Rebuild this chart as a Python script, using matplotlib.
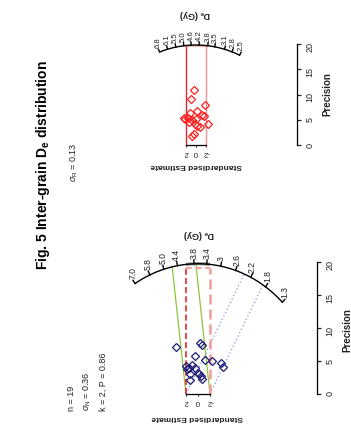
import numpy as np
import matplotlib
matplotlib.use('Agg')
import matplotlib.pyplot as plt

plt.rcParams['font.family'] = ['Liberation Sans', 'DejaVu Sans']
plt.rcParams['mathtext.fontset'] = 'custom'
plt.rcParams['mathtext.rm'] = 'Liberation Sans'
plt.rcParams['mathtext.it'] = 'Liberation Sans:italic'
plt.rcParams['mathtext.bf'] = 'Liberation Sans:bold'

# ---------------- data ----------------
# right-hand (top in picture) radial plot: standardised estimate / precision
top_std = [0.34, 0.94, -1.74, -0.20, 1.20, 2.46, 2.20, 1.54, -1.20, -1.54,
           0.00, 0.86, 1.46, 0.26, -0.20, -0.86, -2.34, 0.46, 0.74]
top_prec = [10.83, 9.05, 7.92, 6.79, 6.28, 5.41, 5.20, 5.35, 5.94, 5.68,
            5.21, 4.89, 4.61, 4.16, 3.76, 3.56, 4.16, 2.18, 1.72]
# left-hand (bottom in picture) radial plot
bot_std = [3.67, -0.33, -0.62, 0.45, -1.22, -2.33, -3.83, -4.22, 1.00, 1.55,
           1.78, 0.55, 1.28, 0.05, -0.22, -0.45, -0.67, 1.33, 1.92]
bot_prec = [7.10, 7.75, 7.45, 5.73, 5.21, 5.06, 4.76, 4.15, 4.41, 4.00,
            3.75, 3.95, 3.09, 3.24, 3.04, 2.78, 2.28, 2.17, 4.26]

top_ticks = [6.8, 6.1, 5.5, 5.0, 4.6, 4.2, 3.8, 3.5, 3.1, 2.8, 2.5]
top_tick_labels = ['6.8', '6.1', '5.5', '5.0', '4.6', '4.2', '3.8', '3.5', '3.1', '2.8', '2.5']
bot_ticks = [7.0, 5.8, 5.0, 4.4, 3.8, 3.4, 3.0, 2.6, 2.2, 1.8, 1.3]
bot_tick_labels = ['7.0', '5.8', '5.0', '4.4', '3.8', '3.4', '3', '2.6', '2.2', '1.8', '1.3']

top_central = 4.35      # Gy
bot_central = 3.67      # Gy
bot_components = [4.15, 2.12]   # Gy, k = 2 mixture components

prec_ticks = [0, 5, 10, 15, 20]
std_ticks = [-2, 0, 2]

title = r'Fig. 5 Inter-grain D$_\mathbf{e}$ distribution'
sigma_r = r'$\sigma_\mathregular{R}$ = 0.13'
stats_left = ['n = 19', r'$\sigma_\mathregular{N}$ = 0.36', 'k = 2, P = 0.86']

# ---------------- layout ----------------
W, H = 351, 427
fig = plt.figure(figsize=(W / 100, H / 100), dpi=100)
R = 19.8  # arc radius (precision units)


def px(x, y):
    return x / W, 1 - y / H


def make_axes(box, x0, sx, y0, sy):
    l, t, r, b = box
    ax = fig.add_axes([l / W, 1 - b / H, (r - l) / W, (b - t) / H])
    ax.set_xlim((x0 - l) / sx, (x0 - r) / sx)
    ax.set_ylim((y0 - b) / sy, (y0 - t) / sy)
    ax.patch.set_visible(False)
    for s in ['left', 'top']:
        ax.spines[s].set_visible(False)
    return ax


def theta(de, k, z0):
    return np.arctan(k * (np.log(de) - z0))


def draw_arc(ax, ticks, labels, k, z0, fs):
    th = np.linspace(theta(max(ticks), k, z0), theta(min(ticks), k, z0), 200)
    ax.plot(R * np.sin(th), R * np.cos(th), color='black', lw=1.0,
            solid_capstyle='butt', clip_on=False)
    for v, lab in zip(ticks, labels):
        t = theta(v, k, z0)
        ax.plot([R * np.sin(t), (R + 0.6) * np.sin(t)],
                [R * np.cos(t), (R + 0.6) * np.cos(t)], color='black', lw=1.0,
                clip_on=False)
        ax.annotate(lab, xy=((R + 0.6) * np.sin(t), (R + 0.6) * np.cos(t)),
                    xytext=(0, 1.5), textcoords='offset points', rotation=90,
                    ha='center', va='bottom', fontsize=fs, color='#222222')


def style_axes(ax, prec_pos):
    ax.spines['right'].set_position(('data', prec_pos))
    ax.spines['right'].set_bounds(0, 20)
    ax.spines['bottom'].set_position(('data', 0))
    ax.spines['bottom'].set_bounds(-2, 2)
    for s in ['right', 'bottom']:
        ax.spines[s].set_linewidth(0.9)
    ax.yaxis.tick_right()
    ax.set_yticks(prec_ticks)
    ax.set_yticklabels([str(v) for v in prec_ticks])
    ax.set_xticks(std_ticks)
    ax.set_xticklabels(['-2', '0', '2'])
    ax.tick_params(axis='y', direction='out', length=3, width=0.9, pad=3,
                   labelsize=6.5, labelrotation=90, colors='#222222')
    ax.tick_params(axis='x', direction='out', length=1.5, width=0.8, pad=0.5,
                   labelsize=5.8, labelrotation=180, colors='#222222')


def band_end(offset, slope):
    # intersection of std = offset + slope*p with circle of radius R
    a = 1 + slope ** 2
    b = 2 * offset * slope
    c = offset ** 2 - R ** 2
    return (-b + np.sqrt(b * b - 4 * a * c)) / (2 * a)


# ---------- top panel (right plot in original) ----------
k_top, z_top = 0.886, np.log(top_central)
ax1 = make_axes((130, 5, 351, 182), 196, 5.0, 146, 5.05)
style_axes(ax1, -20.2)
ptop = np.sqrt(R ** 2 - 4)
ax1.plot([2, 2], [0, ptop], color='#e3262c', lw=1.0)
ax1.plot([-2, -2], [0, ptop], color='#f29191', lw=1.0)
tt = np.linspace(np.arcsin(2 / R), np.arcsin(-2 / R), 20)
ax1.plot(R * np.sin(tt), R * np.cos(tt) - 0.15, color='#f29191', lw=1.0)
draw_arc(ax1, top_ticks, top_tick_labels, k_top, z_top, 5.6)
ax1.plot(top_std, top_prec, linestyle='none', marker='D', markersize=3.6,
         mfc='none', mec='#ff1f1f', mew=0.9)

# ---------- bottom panel (left plot in original) ----------
k_bot, z_bot = 0.97, np.log(bot_central)
ax2 = make_axes((115, 228, 351, 427), 198, 6.0, 395, 6.58)
style_axes(ax2, -19.83)
# mixture component bands
comp_styles = [dict(color='#8cc63f', lw=0.9, ls='-'),
               dict(color='#8595dc', lw=0.9, ls=(0, (1, 2)))]
for de, st in zip(bot_components, comp_styles):
    s = k_bot * (np.log(de) - z_bot)
    for off in (2, -2):
        pe = band_end(off, s)
        ax2.plot([off, off + s * pe], [0, pe], **st)
# central value band
pb = np.sqrt(R ** 2 - 4)
tt = np.linspace(np.arcsin(2 / R), np.arcsin(-2 / R), 20)
ax2.plot(R * np.sin(tt), R * np.cos(tt), color='#888888', lw=2.2,
         solid_capstyle='butt')
ax2.plot([2, 2], [0, pb - 0.5], color='#e8141c', lw=1.1, ls=(0, (4, 2)))
ax2.plot([-2, -2], [0, pb - 0.5], color='#f29b9b', lw=1.8, ls=(0, (4, 2)))
ax2.plot([2, -2], [pb - 0.5, pb - 0.5], color='#f29b9b', lw=1.4, ls=(0, (3, 2)))
draw_arc(ax2, bot_ticks, bot_tick_labels, k_bot, z_bot, 6.2)
ax2.plot(bot_std, bot_prec, linestyle='none', marker='D', markersize=3.6,
         mfc='none', mec='#1c1c78', mew=0.9)

# ---------- texts ----------
fig.text(*px(43, 165), title, rotation=90, ha='center', va='center',
         fontsize=10, fontweight='bold')
fig.text(*px(74, 162), sigma_r, rotation=90, ha='center', va='center',
         fontsize=6.5, color='#222222')
for i, s in enumerate(stats_left):
    fig.text(*px(71 + 16 * i, 411), s, rotation=90, ha='center', va='bottom',
             fontsize=6.5, color='#222222')

for (x, y) in [(196, 165), (197, 418)]:
    fig.text(*px(x, y), 'Standardised Estimate', rotation=180, ha='center',
             va='center', fontsize=6, fontweight='bold', color='#222222')
for (x, y) in [(195, 14), (199, 234)]:
    fig.text(*px(x, y), r'D$_\mathbf{e}$ (Gy)', rotation=180, ha='center',
             va='center', fontsize=6.5, fontweight='bold', color='#222222')
for (x, y) in [(327, 94), (347, 330)]:
    fig.text(*px(x, y), 'Precision', rotation=90, ha='center', va='center',
             fontsize=7, fontweight='bold', color='#222222')

fig.savefig('out.png', dpi=100)
